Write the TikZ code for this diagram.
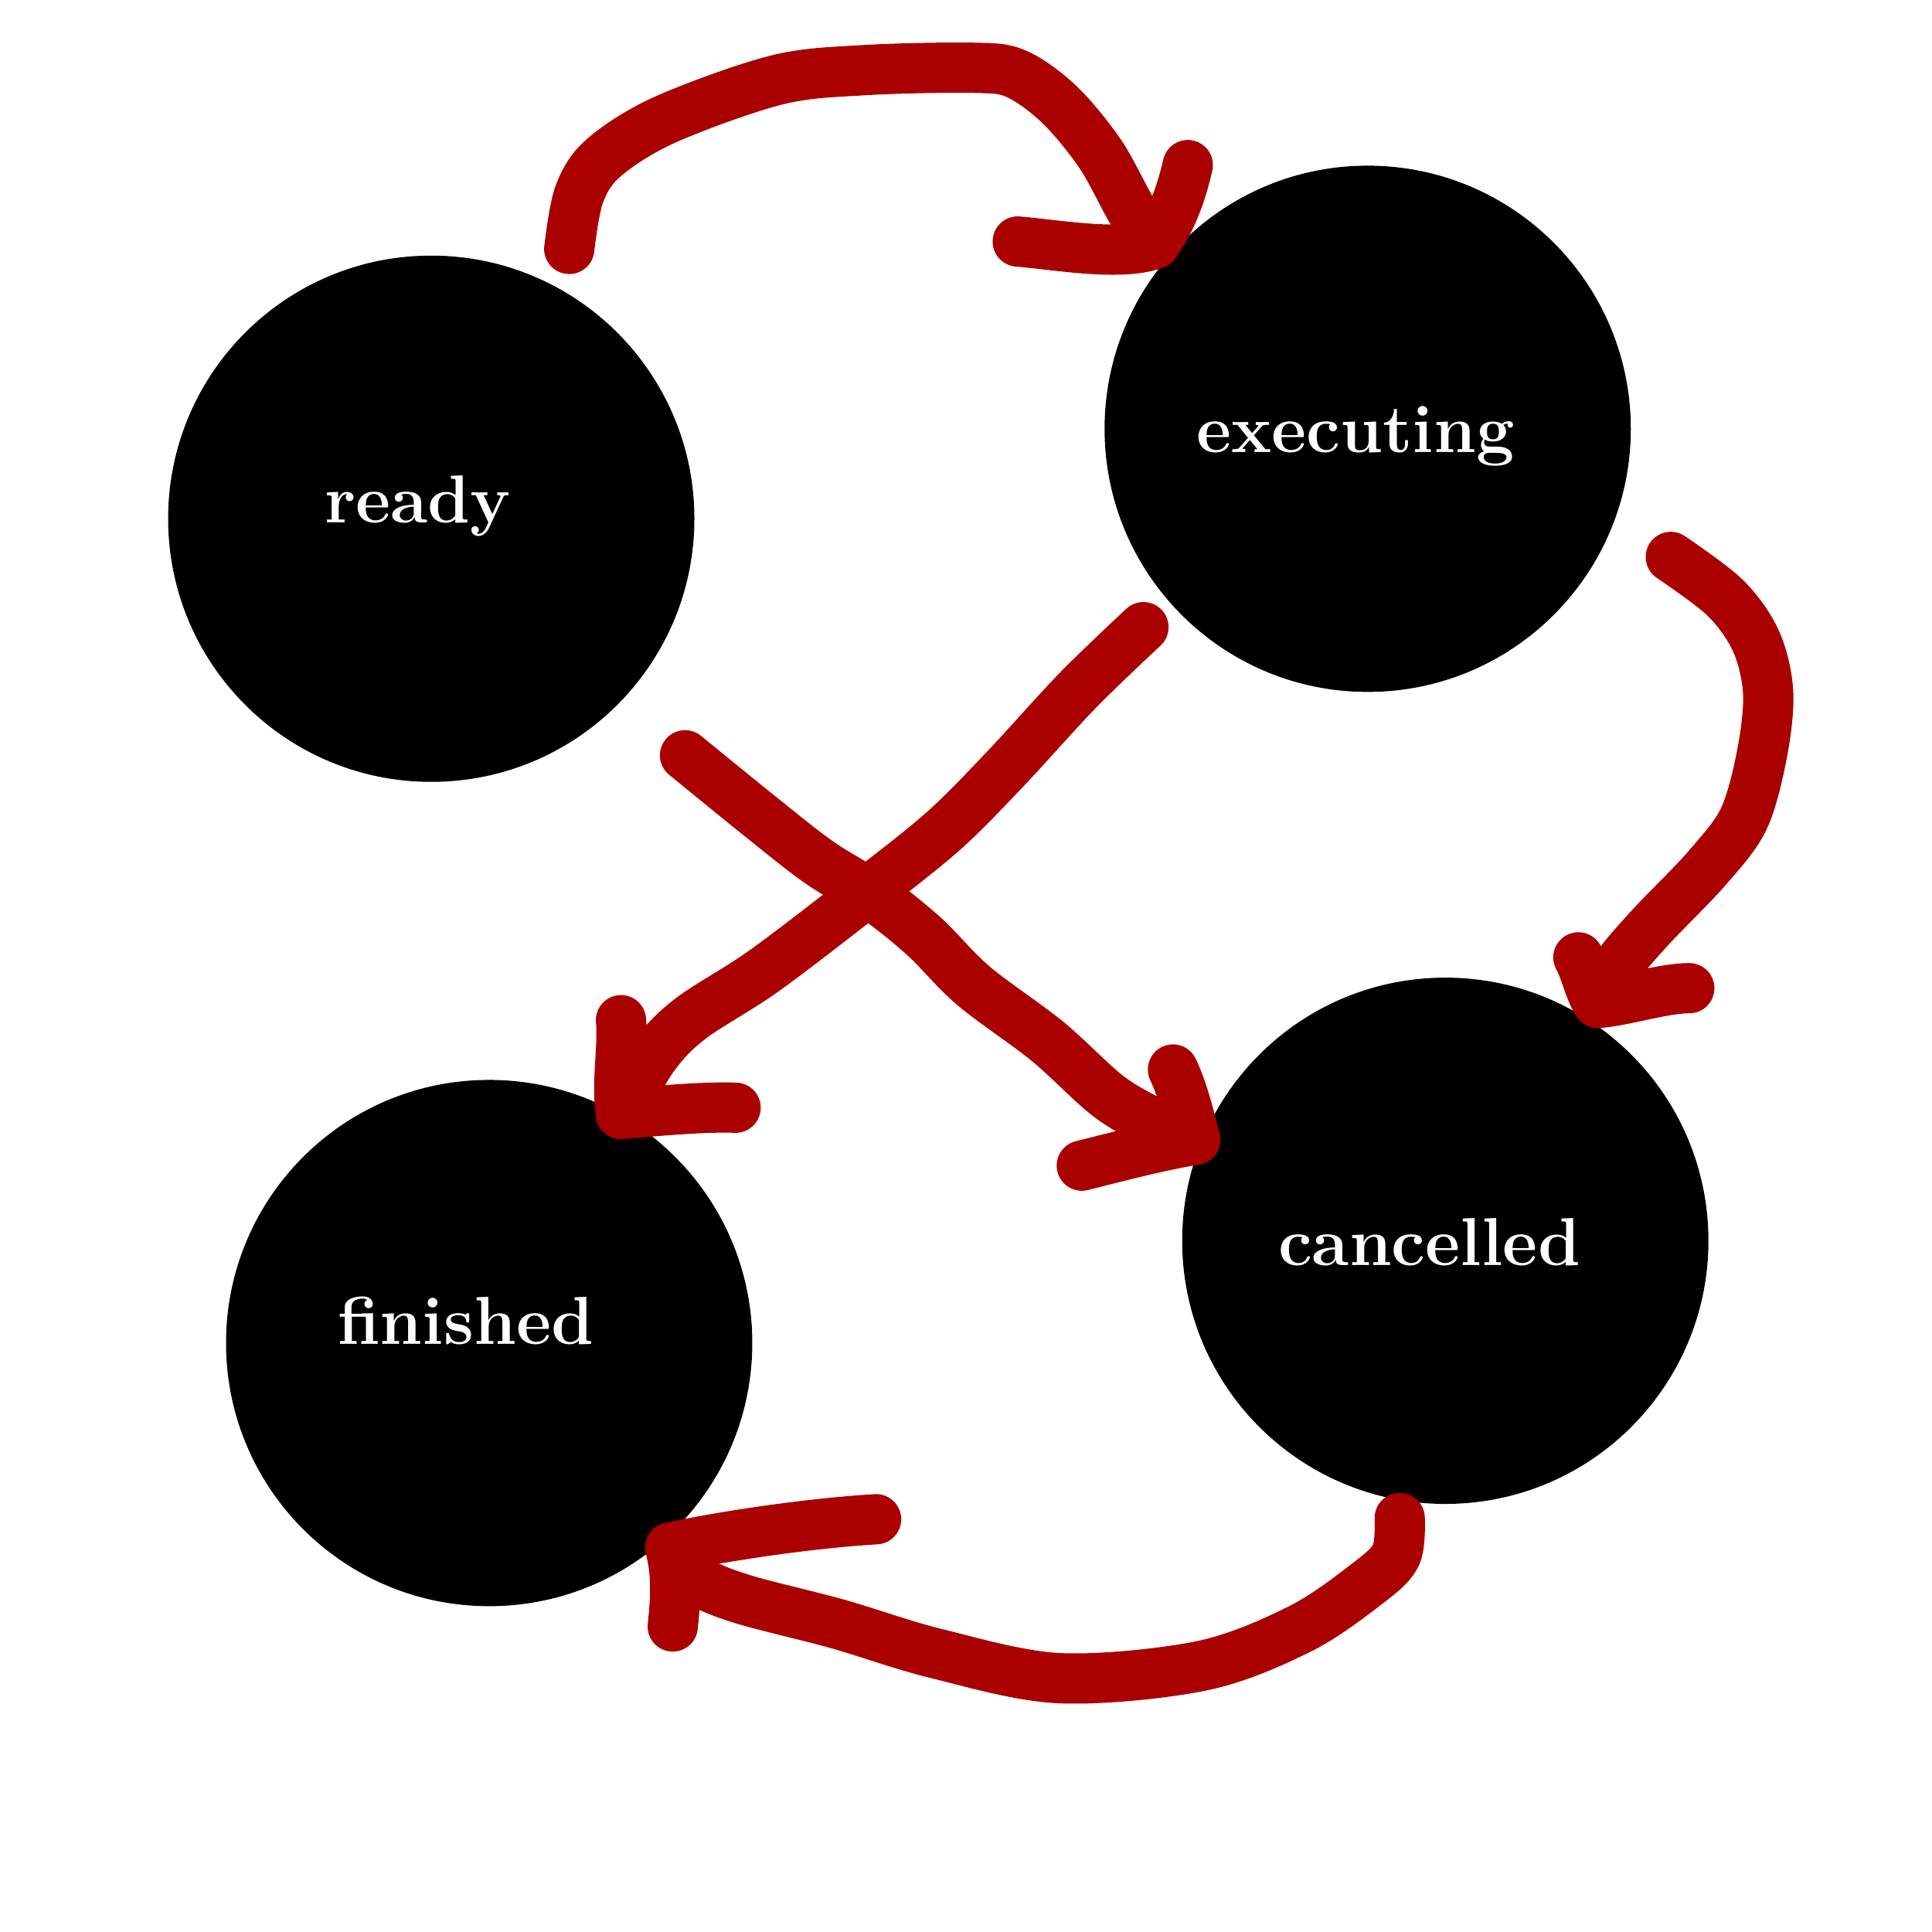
\documentclass[tikz,border=0pt]{standalone}
\begin{document}
\begin{tikzpicture}[x=0.015944cm,y=-0.015944cm,
  state/.style={circle,fill=black,draw=none,minimum size=6.81cm,inner sep=0pt},
  lbl/.style={text=white,anchor=base,font=\fontsize{25}{30}\selectfont\bfseries},
  redline/.style={draw=arrowred,line width=0.65cm,line cap=round,line join=round}]
\definecolor{arrowred}{HTML}{AA0000}
\useasboundingbox (0,0) rectangle (1568,1568);
% states
\node[state] (ready) at (350,421) {};
\node[state] (executing) at (1110,348) {};
\node[state] (finished) at (397,1090) {};
\node[state] (cancelled) at (1173,1007) {};
\node[lbl] (readyl) at (339,424) {ready};
\node[lbl] (executingl) at (1100,367) {executing};
\node[lbl] (finishedl) at (378,1091) {finished};
\node[lbl] (cancelledl) at (1160,1027) {cancelled};
% coordinates
\coordinate (a1s) at (462,202);
\coordinate (a1t) at (937,198);
\coordinate (a1w1) at (826,196);
\coordinate (a1w2) at (964,134);
\coordinate (a2s) at (928,509);
\coordinate (a2t) at (504,904);
\coordinate (a2w1) at (504,828);
\coordinate (a2w2) at (597,899);
\coordinate (a3s) at (556,613);
\coordinate (a3t) at (970,925);
\coordinate (a3w1) at (952,868);
\coordinate (a3w2) at (878,946);
\coordinate (a4s) at (1356,452);
\coordinate (a4t) at (1297,814);
\coordinate (a4w1) at (1281,777);
\coordinate (a4w2) at (1371,802);
\coordinate (a5s) at (1136,1232);
\coordinate (a5t) at (544,1256);
\coordinate (a5w1) at (711,1233);
\coordinate (a5w2) at (546,1320);
% ready -> executing
\draw[redline] plot[smooth,tension=0.55] coordinates {(a1s) (470,158) (490,128) (540,97) (630,65) (700,57) (790,55) (825,60) (860,85) (893,125) (918,170) (a1t)};
\draw[redline] (a1w1) .. controls (860,199) and (910,208) .. (a1t) .. controls (950,180) and (958,160) .. (a1w2);
% executing -> finished
\draw[redline] plot[smooth,tension=0.55] coordinates {(a2s) (875,560) (815,625) (765,675) (700,727) (620,788) (560,827) (530,858) (a2t)};
\draw[redline] (a2w1) .. controls (506,850) and (500,880) .. (a2t) .. controls (530,902) and (570,898) .. (a2w2);
% ready -> cancelled
\draw[redline] plot[smooth,tension=0.55] coordinates {(a3s) (620,665) (665,700) (710,728) (750,760) (790,800) (850,845) (900,890) (940,913) (a3t)};
\draw[redline] (a3w1) .. controls (960,885) and (965,905) .. (a3t) .. controls (940,930) and (910,938) .. (a3w2);
% executing -> cancelled
\draw[redline] plot[smooth,tension=0.55] coordinates {(a4s) (1400,485) (1425,520) (1435,562) (1430,612) (1415,665) (1385,705) (1340,752) (1312,785) (a4t)};
\draw[redline] (a4w1) .. controls (1288,790) and (1290,805) .. (a4t) .. controls (1320,812) and (1350,802) .. (a4w2);
% cancelled -> finished
\draw[redline] plot[smooth,tension=0.55] coordinates {(a5s) (1133,1262) (1110,1285) (1055,1322) (975,1352) (860,1362) (760,1342) (680,1318) (600,1297) (562,1280) (a5t)};
\draw[redline] (a5w1) .. controls (660,1236) and (590,1246) .. (a5t) .. controls (550,1280) and (548,1300) .. (a5w2);
\end{tikzpicture}
\end{document}
